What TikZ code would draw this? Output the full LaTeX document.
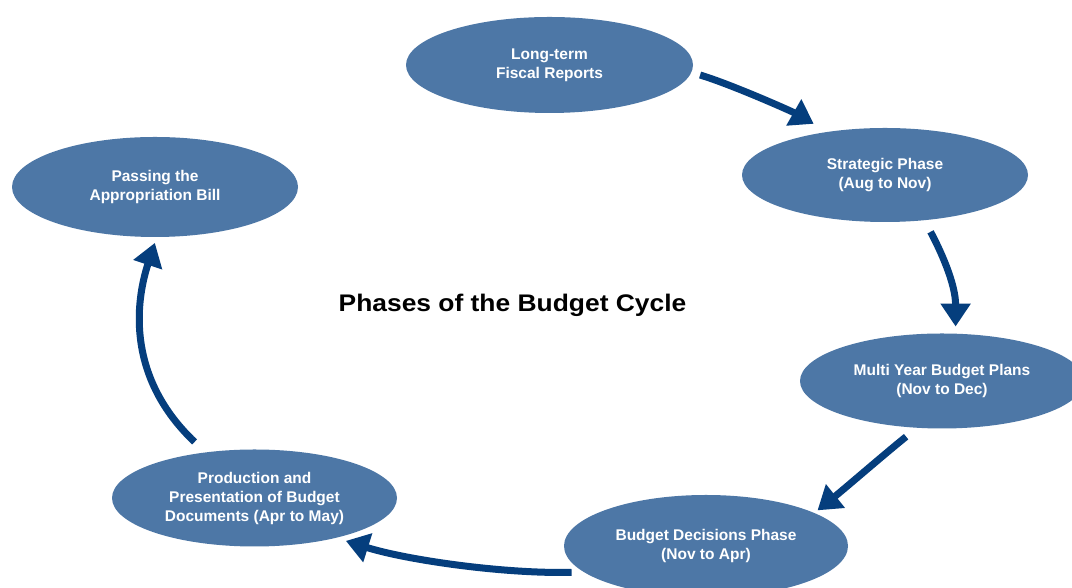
\documentclass[tikz,border=0pt]{standalone}
\usepackage{fontspec}
\usepackage{graphicx}
\setmainfont{Liberation Sans}
\usetikzlibrary{shapes.geometric,arrows.meta}
\definecolor{ellfill}{RGB}{77,119,166}
\definecolor{arrowc}{RGB}{5,62,125}
\tikzset{
  phase/.style={ellipse, fill=ellfill, draw=none, inner sep=0pt, text=white, align=center,
    font=\bfseries\fontsize{15.5}{19}\selectfont},
  cyclearrow/.style={line width=7pt, draw=arrowc, -{Triangle[width=29pt,length=23pt]}},
}
\begin{document}
\begin{tikzpicture}[x=1pt,y=1pt]
\useasboundingbox (0,0) rectangle (1072,588);
\clip (0,0) rectangle (1072,588);
\fill[white] (0,0) rectangle (1072,588);

\node[phase, minimum width=287pt, minimum height=96pt] (lt) at (549.5,523) {Long-term\\Fiscal Reports};
\node[phase, minimum width=286pt, minimum height=94pt] (st) at (885,413) {Strategic Phase\\(Aug to Nov)};
\node[phase, minimum width=284pt, minimum height=95pt] (my) at (942,207) {Multi Year Budget Plans\\(Nov to Dec)};
\node[phase, minimum width=284pt, minimum height=102pt] (bd) at (706,42) {Budget Decisions Phase\\(Nov to Apr)};
\node[phase, minimum width=285pt, minimum height=97pt] (pr) at (254.5,90) {Production and\\Presentation of Budget\\Documents (Apr to May)};
\node[phase, minimum width=286pt, minimum height=100pt] (pa) at (155,401) {Passing the\\Appropriation Bill};

\node[font=\bfseries\fontsize{24}{28}\selectfont] (title) at (512.5,283) {\scalebox{1.1}[1]{Phases of the Budget Cycle}};

\draw[cyclearrow, shorten <=9pt, shorten >=16pt] (lt.-3) .. controls +(40,-12) and +(-35,20) .. (st.143);
\draw[cyclearrow, shorten <=13pt, shorten >=7pt] (st.-49) .. controls +(16,-30) and +(0,50) .. (my.74.5);
\draw[cyclearrow, shorten <=14pt, shorten >=4pt] (my.-118.5) .. controls +(-30,-24) and +(30,24) .. (bd.17);
\draw[cyclearrow, shorten <=12pt, shorten >=10pt] (bd.-168) .. controls +(-80,-2) and +(70,-22) .. (pr.-26);
\draw[cyclearrow, shorten <=15pt, shorten >=6pt] (pr.137) .. controls +(-78,74) and +(-22,-67) .. (pa.-88);
\end{tikzpicture}
\end{document}
